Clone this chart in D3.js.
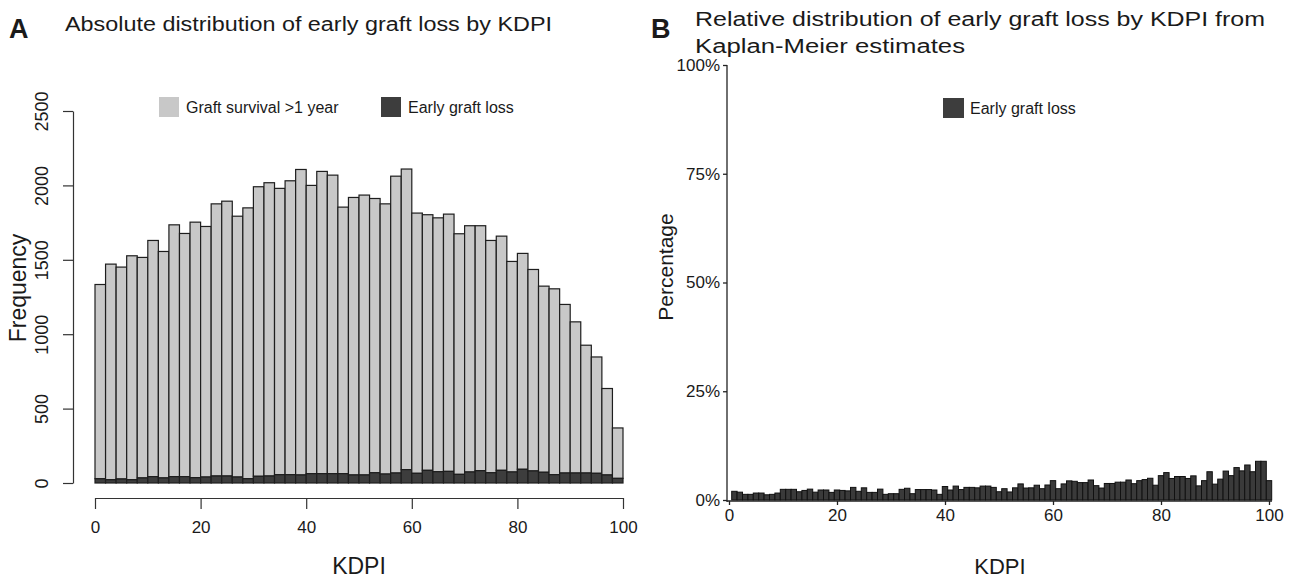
<!DOCTYPE html>
<html>
<head>
<meta charset="utf-8">
<script src="https://cdn.jsdelivr.net/npm/d3@7"></script>
<style>
  body { margin: 0; background: #fff; }
  text { font-family: "Liberation Sans", Arial, sans-serif; fill: #1a1a1a; }
</style>
</head>
<body>
<svg id="chart" width="1300" height="581"></svg>
<script>
// ---- Panel A: counts per KDPI bin (bins of 2) ----
var binWidthA = 2
var totalA = [1334, 1471, 1451, 1527, 1516, 1630, 1556, 1735, 1677, 1753,
              1724, 1876, 1894, 1793, 1849, 1991, 2018, 1980, 2031, 2107,
              2000, 2094, 2069, 1854, 1919, 1935, 1912, 1876, 2062, 2110,
              1814, 1803, 1782, 1807, 1675, 1729, 1729, 1630, 1659, 1489,
              1543, 1435, 1323, 1305, 1200, 1083, 926, 847, 635, 370]
var lossA = [29, 22, 27, 22, 34, 43, 34, 43, 43, 36,
             40, 47, 47, 40, 29, 45, 47, 56, 56, 54,
             63, 63, 63, 63, 54, 54, 69, 60, 67, 90,
             65, 85, 76, 78, 58, 74, 83, 69, 85, 74,
             92, 81, 72, 56, 67, 67, 67, 65, 54, 31]
var yTicksA = [0, 500, 1000, 1500, 2000, 2500]
var xTicks = [0, 20, 40, 60, 80, 100]
var legendA = ["Graft survival >1 year", "Early graft loss"]

// ---- Panel B: percentage with early graft loss per KDPI (1..100) ----
var pctB = [2.0, 1.8, 1.3, 1.3, 1.6, 1.6, 1.2, 1.3, 1.6, 2.45,
            2.45, 2.45, 1.9, 2.2, 2.5, 1.8, 2.3, 2.3, 1.75, 2.3,
            2.2, 2.1, 2.9, 2.0, 2.8, 1.75, 1.75, 2.5, 1.3, 1.45,
            1.45, 2.45, 2.7, 1.45, 2.4, 2.4, 2.4, 2.3, 1.3, 3.1,
            2.3, 3.2, 2.4, 2.9, 2.9, 2.8, 3.2, 3.2, 2.9, 1.9,
            2.6, 1.85, 2.8, 3.7, 2.75, 2.8, 3.4, 2.6, 3.45, 4.45,
            2.6, 3.7, 4.4, 4.3, 4.0, 4.0, 4.6, 3.3, 2.75, 3.8,
            3.8, 4.1, 4.1, 4.6, 3.75, 4.45, 4.7, 5.0, 3.4, 5.6,
            6.3, 4.95, 5.4, 5.4, 4.95, 5.55, 3.25, 4.45, 6.5, 3.65,
            4.8, 6.65, 5.6, 7.45, 6.7, 8.05, 6.5, 8.9, 8.9, 4.45]
var yTicksB = [0, 25, 50, 75, 100]

var gray = "#c8c8c8", dark = "#3d3d3d", edge = "#1e1e1e"

var svg = d3.select("#chart")

// ================= Panel A =================
var xA = d3.scaleLinear().domain([0, 100]).range([95, 623])
var yA = d3.scaleLinear().domain([0, 2500]).range([483, 111])

var gA = svg.append("g")

var barsA = gA.selectAll(".binA")
    .data(totalA)
    .enter().append("g")
    .attr("class", "binA")

barsA.append("rect")
    .attr("x", (d, i) => xA(i * binWidthA))
    .attr("width", (d, i) => xA((i + 1) * binWidthA) - xA(i * binWidthA))
    .attr("y", d => yA(d))
    .attr("height", (d, i) => yA(lossA[i]) - yA(d))
    .attr("fill", gray).attr("stroke", edge).attr("stroke-width", 1.2)

barsA.append("rect")
    .attr("x", (d, i) => xA(i * binWidthA))
    .attr("width", (d, i) => xA((i + 1) * binWidthA) - xA(i * binWidthA))
    .attr("y", (d, i) => yA(lossA[i]))
    .attr("height", (d, i) => yA(0) - yA(lossA[i]))
    .attr("fill", dark).attr("stroke", edge).attr("stroke-width", 1.2)

// y axis (R style, rotated labels)
var yAxisA = gA.append("g")
    .attr("transform", "translate(73,0)")
    .call(d3.axisLeft(yA).tickValues(yTicksA).tickSize(10).tickSizeOuter(0)
        .tickFormat(d3.format("d")))
yAxisA.selectAll("text")
    .attr("x", 0).attr("y", 0).attr("dy", 0)
    .attr("text-anchor", "middle")
    .attr("transform", "translate(-25,0) rotate(-90)")
    .style("font-size", "18px")
yAxisA.selectAll("path, line").attr("stroke", "#333").attr("stroke-width", 1.2)

// x axis
var xAxisA = gA.append("g")
    .attr("transform", "translate(0,498)")
    .call(d3.axisBottom(xA).tickValues(xTicks).tickSize(11).tickSizeOuter(0).tickPadding(12))
xAxisA.selectAll("text").style("font-size", "17px")
xAxisA.selectAll("path, line").attr("stroke", "#333").attr("stroke-width", 1.2)

gA.append("text")
    .attr("transform", "translate(26,288) rotate(-90)")
    .attr("text-anchor", "middle")
    .style("font-size", "23px")
    .text("Frequency")

gA.append("text")
    .attr("x", 359).attr("y", 574)
    .attr("text-anchor", "middle")
    .style("font-size", "23px")
    .text("KDPI")

// legend A
var legA = gA.selectAll(".legA")
    .data(legendA)
    .enter().append("g")
    .attr("transform", (d, i) => "translate(" + [159, 381][i] + ",97)")
legA.append("rect")
    .attr("width", 20).attr("height", 20)
    .attr("fill", (d, i) => [gray, dark][i])
legA.append("text")
    .attr("x", 27).attr("y", 16)
    .style("font-size", "16px")
    .text(d => d)

// titles
svg.append("text").attr("x", 9).attr("y", 38)
    .style("font-size", "27px").style("font-weight", "bold").text("A")
svg.append("text").attr("x", 65).attr("y", 31)
    .attr("textLength", 487).attr("lengthAdjust", "spacingAndGlyphs")
    .style("font-size", "20px").text("Absolute distribution of early graft loss by KDPI")

// ================= Panel B =================
var xB = d3.scaleLinear().domain([0, 100]).range([729, 1269])
var yB = d3.scaleLinear().domain([0, 100]).range([500, 65])

var gB = svg.append("g")

gB.selectAll(".barB")
    .data(pctB)
    .enter().append("rect")
    .attr("class", "barB")
    .attr("x", (d, i) => xB(i + 0.5))
    .attr("width", xB(1) - xB(0))
    .attr("y", d => yB(d))
    .attr("height", d => yB(0) - yB(d))
    .attr("fill", "#3a3a3a").attr("stroke", "#111").attr("stroke-width", 1)

var yAxisB = gB.append("g")
    .attr("transform", "translate(727,0)")
    .call(d3.axisLeft(yB).tickValues(yTicksB).tickSize(4).tickSizeOuter(0).tickPadding(3)
        .tickFormat(d => d + "%"))
yAxisB.selectAll("text").style("font-size", "17px")
yAxisB.selectAll("path, line").attr("stroke", "#222").attr("stroke-width", 1.3)
yAxisB.select(".domain").attr("d", "M0," + yB(100) + "V" + (yB(0) + 2))

var xAxisB = gB.append("g")
    .attr("transform", "translate(0,501)")
    .call(d3.axisBottom(xB).tickValues(xTicks).tickSize(4).tickSizeOuter(0).tickPadding(4))
xAxisB.selectAll("text").style("font-size", "17px")
xAxisB.selectAll("path, line").attr("stroke", "#222").attr("stroke-width", 1.3)
xAxisB.select(".domain").attr("d", "M727,0H1272")

gB.append("text")
    .attr("transform", "translate(673,267) rotate(-90)")
    .attr("text-anchor", "middle")
    .style("font-size", "21px")
    .text("Percentage")

gB.append("text")
    .attr("x", 1000).attr("y", 574)
    .attr("text-anchor", "middle")
    .style("font-size", "22px")
    .text("KDPI")

var legB = gB.append("g").attr("transform", "translate(943,98)")
legB.append("rect").attr("width", 21).attr("height", 20).attr("fill", dark)
legB.append("text").attr("x", 27).attr("y", 16).style("font-size", "16px").text("Early graft loss")

svg.append("text").attr("x", 651).attr("y", 38)
    .style("font-size", "27px").style("font-weight", "bold").text("B")
svg.append("text").attr("x", 695).attr("y", 26)
    .attr("textLength", 570).attr("lengthAdjust", "spacingAndGlyphs")
    .style("font-size", "20px").text("Relative distribution of early graft loss by KDPI from")
svg.append("text").attr("x", 695).attr("y", 53)
    .attr("textLength", 270).attr("lengthAdjust", "spacingAndGlyphs")
    .style("font-size", "20px").text("Kaplan-Meier estimates")
</script>
</body>
</html>
